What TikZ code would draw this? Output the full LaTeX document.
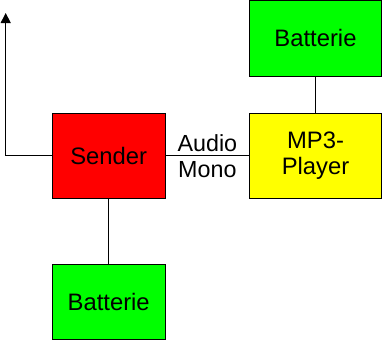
\documentclass[tikz,border=0pt]{standalone}
\usepackage{fontspec}
\setmainfont{Liberation Sans}
\usetikzlibrary{arrows.meta}
\begin{document}
\begin{tikzpicture}[x=1pt,y=-1pt,
  blk/.style={draw=black, line width=0.9pt, inner sep=0pt, align=center,
    font=\fontsize{23.8}{26.5}\selectfont},
  conn/.style={draw=black, line width=0.9pt},
  lbl/.style={font=\fontsize{23.3}{26.5}\selectfont, inner sep=0pt}]
\useasboundingbox (0,0) rectangle (382,340);
\node[blk, fill={rgb,255:red,0;green,255;blue,0}, minimum width=132.5pt, minimum height=76pt] (bat1) at (315.5,38) {Batterie};
\node[blk, fill={rgb,255:red,255;green,255;blue,0}, minimum width=131.5pt, minimum height=85pt] (mp3) at (315.5,155.8) {MP3-\\Player};
\node[blk, fill={rgb,255:red,255;green,0;blue,0}, minimum width=112.5pt, minimum height=85pt] (sender) at (108.7,155.8) {Sender};
\node[blk, fill={rgb,255:red,0;green,255;blue,0}, minimum width=113pt, minimum height=75pt] (bat2) at (108.7,301.8) {Batterie};
\coordinate (ant) at (5.7,13);
\draw[conn] (bat1) -- (mp3);
\draw[conn] (sender) -- (bat2);
\draw[conn] (sender) -- node[lbl, yshift=13pt]{Audio} node[lbl, yshift=-13.5pt]{Mono} (mp3);
\draw[conn, -{Triangle[width=10pt,length=10pt]}] (sender.west) -| (ant);
\end{tikzpicture}
\end{document}
